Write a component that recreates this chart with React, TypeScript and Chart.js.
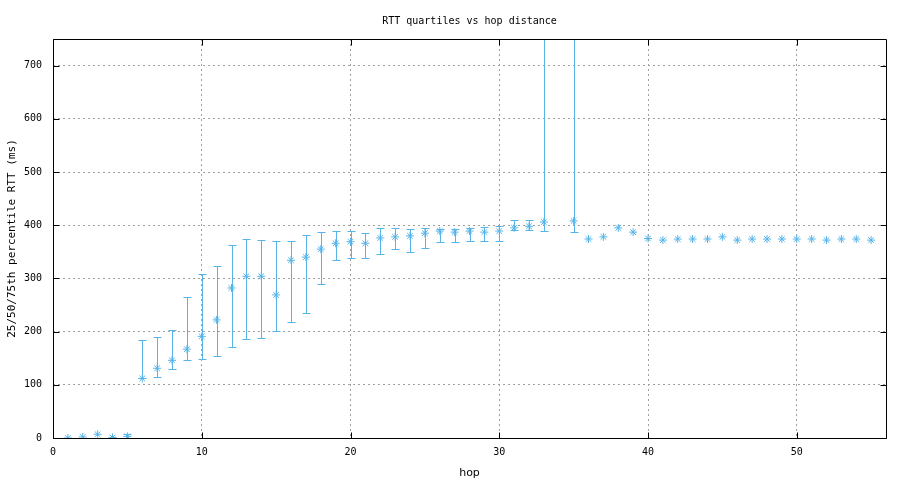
import React, { useEffect, useRef } from 'react';
import { Chart, registerables } from 'chart.js';

Chart.register(...registerables);

const TITLE = 'RTT quartiles vs hop distance';
const X_LABEL = 'hop';
const Y_LABEL = '25/50/75th percentile RTT (ms)';

const hops = [
  1, 2, 3, 4, 5, 6, 7, 8, 9, 10, 11, 12, 13, 14, 15, 16, 17, 18, 19, 20,
  21, 22, 23, 24, 25, 26, 27, 28, 29, 30, 31, 32, 33, 35, 36, 37, 38, 39, 40,
  41, 42, 43, 44, 45, 46, 47, 48, 49, 50, 51, 52, 53, 54, 55,
];
const median = [
  0, 2, 7, 1, 3, 112, 131, 146, 167, 191, 222, 282, 304, 304, 269, 334, 340, 355, 366, 369,
  366, 376, 378, 380, 385, 389, 387, 389, 387, 389, 395, 398, 406, 408, 374, 378, 395, 387, 375,
  372, 374, 374, 374, 378, 372, 374, 374, 374, 374, 374, 372, 374, 374, 372,
];
const q25: (number | null)[] = [
  null, null, null, null, 0, 112, 114, 129, 146, 148, 154, 171, 186, 188, 201, 218, 235, 289, 334, 338,
  338, 346, 355, 349, 357, 368, 368, 370, 370, 370, 391, 391, 389, 387, null, null, null, null, null,
  null, null, null, null, null, null, null, null, null, null, null, null, null, null, null,
];
const q75: (number | null)[] = [
  null, null, null, null, 7, 184, 190, 203, 265, 308, 323, 363, 374, 372, 370, 370, 381, 387, 389, 389,
  385, 395, 395, 393, 395, 393, 393, 395, 397, 398, 409, 410, 1000, 1000, null, null, null, null, null,
  null, null, null, null, null, null, null, null, null, null, null, null, null, null, null,
];

const xTicks = [0, 10, 20, 30, 40, 50];
const yTicks = [0, 100, 200, 300, 400, 500, 600, 700];

const COLOR = '#56B4E9';
const GRID = '#a0a0a0';
const MONO = '"DejaVu Sans Mono", monospace';

const errorBarPlugin = {
  id: 'errorBars',
  beforeDatasetsDraw(chart: any) {
    const { ctx, chartArea, scales } = chart;
    const x = scales.x;
    const y = scales.y;
    ctx.save();
    ctx.beginPath();
    ctx.rect(chartArea.left, chartArea.top, chartArea.right - chartArea.left, chartArea.bottom - chartArea.top);
    ctx.clip();
    ctx.strokeStyle = COLOR;
    ctx.lineWidth = 1;
    hops.forEach((h, i) => {
      const lo = q25[i];
      const hi = q75[i];
      if (lo == null || hi == null) return;
      const px = Math.round(x.getPixelForValue(h)) + 0.5;
      const yl = Math.round(y.getPixelForValue(lo)) + 0.5;
      const yh = Math.round(y.getPixelForValue(hi)) + 0.5;
      ctx.beginPath();
      ctx.moveTo(px, yl);
      ctx.lineTo(px, yh);
      ctx.moveTo(px - 4, yl);
      ctx.lineTo(px + 4, yl);
      ctx.moveTo(px - 4, yh);
      ctx.lineTo(px + 4, yh);
      ctx.stroke();
    });
    ctx.restore();
  },
};

const framePlugin = {
  id: 'frame',
  afterDraw(chart: any) {
    const { ctx, chartArea, scales } = chart;
    const { left, right, top, bottom } = chartArea;
    const x = scales.x;
    const y = scales.y;
    ctx.save();
    ctx.strokeStyle = '#000';
    ctx.lineWidth = 1;
    const L = Math.round(left) + 0.5;
    const R = Math.round(right) + 0.5;
    const T = Math.round(top) + 0.5;
    const B = Math.round(bottom) + 0.5;
    ctx.beginPath();
    ctx.rect(L, T, R - L, B - T);
    ctx.stroke();
    const tl = 6;
    ctx.beginPath();
    xTicks.forEach((v) => {
      const px = Math.round(x.getPixelForValue(v)) + 0.5;
      ctx.moveTo(px, B);
      ctx.lineTo(px, B - tl);
      ctx.moveTo(px, T);
      ctx.lineTo(px, T + tl);
    });
    yTicks.forEach((v) => {
      const py = Math.round(y.getPixelForValue(v)) + 0.5;
      ctx.moveTo(L, py);
      ctx.lineTo(L + tl, py);
      ctx.moveTo(R, py);
      ctx.lineTo(R - tl, py);
    });
    ctx.stroke();
    ctx.fillStyle = '#000';
    ctx.font = `10px ${MONO}`;
    ctx.textAlign = 'center';
    ctx.textBaseline = 'middle';
    ctx.fillText(TITLE, (left + right) / 2, 21);
    ctx.restore();
  },
};

export default function App() {
  const ref = useRef<HTMLCanvasElement | null>(null);

  useEffect(() => {
    if (!ref.current) return;
    const points = hops.map((h, i) => ({ x: h, y: median[i] }));
    const chart = new Chart(ref.current, {
      type: 'scatter',
      data: {
        datasets: [
          {
            label: 'median',
            data: points,
            pointStyle: 'star',
            radius: 4,
            borderColor: COLOR,
            backgroundColor: COLOR,
            borderWidth: 1,
            showLine: false,
          },
        ],
      },
      plugins: [errorBarPlugin, framePlugin],
      options: {
        responsive: false,
        animation: false,
        devicePixelRatio: 1,
        layout: { padding: { top: 39, right: 19, left: 0, bottom: 0 } },
        plugins: {
          legend: { display: false },
          tooltip: { enabled: false },
          title: { display: false },
        },
        scales: {
          x: {
            type: 'linear',
            min: 0,
            max: 56,
            ticks: {
              stepSize: 10,
              includeBounds: false,
              color: '#000',
              font: { family: MONO, size: 10 },
              padding: 8,
              maxRotation: 0,
            },
            grid: { color: GRID, drawTicks: false, lineWidth: 1 },
            border: { display: false, dash: [2, 3] },
            title: {
              display: true,
              text: X_LABEL,
              color: '#000',
              font: { family: '"DejaVu Sans", sans-serif', size: 11 },
              padding: { top: 4, bottom: 0 },
            },
            afterFit(s: any) {
              s.height = 42;
            },
          },
          y: {
            type: 'linear',
            min: 0,
            max: 750,
            ticks: {
              stepSize: 100,
              includeBounds: false,
              color: '#000',
              font: { family: MONO, size: 10 },
              padding: 11,
            },
            grid: { color: GRID, drawTicks: false, lineWidth: 1 },
            border: { display: false, dash: [2, 3] },
            title: {
              display: true,
              text: Y_LABEL,
              color: '#000',
              font: { family: MONO, size: 11 },
              padding: { top: 6, bottom: 0 },
            },
            afterFit(s: any) {
              s.width = 53;
            },
          },
        },
      },
    });
    return () => chart.destroy();
  }, []);

  return (
    <div style={{ position: 'absolute', left: 0, top: 0, width: 905, height: 480, background: '#fff' }}>
      <canvas ref={ref} width={905} height={480} />
    </div>
  );
}
